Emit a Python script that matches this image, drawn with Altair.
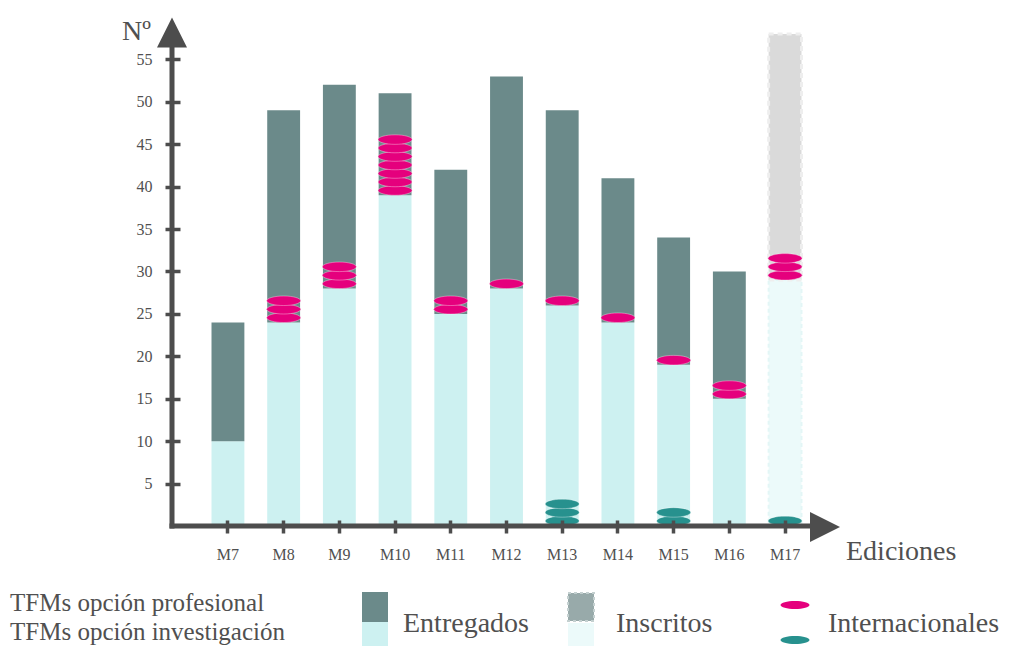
import altair as alt
import pandas as pd

# ---- data ----
editions = ["M7", "M8", "M9", "M10", "M11", "M12", "M13", "M14", "M15", "M16", "M17"]
investigacion = [10, 24, 28, 39, 25, 28, 26, 24, 19, 15, 29]
total = [24, 49, 52, 51, 42, 53, 49, 41, 34, 30, 58]
intl_profesional = [0, 3, 3, 7, 2, 1, 1, 1, 1, 2, 3]
intl_investigacion = [0, 0, 0, 0, 0, 0, 3, 0, 2, 0, 1]
estado = ["Entregados"] * 10 + ["Inscritos"]
y_ticks = [5, 10, 15, 20, 25, 30, 35, 40, 45, 50, 55]

FONT = "Liberation Serif"
AX = "#4d4d4d"
TXT = "#505050"
DARK = "#6b8a8a"
LIGHT = "#cdf1f1"
PINK = "#e5007d"
TEAL = "#27918e"
GREY = "#dadada"
LIGHT2 = "#ecfafa"

bars = pd.DataFrame({"ed": editions, "inv": investigacion, "total": total,
                     "estado": estado, "zero": [0] * len(editions)})
ent = bars[bars.estado == "Entregados"]
ins = bars[bars.estado == "Inscritos"]

pink_rows, teal_rows = [], []
for e, inv, p, t in zip(editions, investigacion, intl_profesional, intl_investigacion):
    for i in range(p):
        pink_rows.append({"ed": e, "c": inv + 0.55 + i})
    for i in range(t):
        teal_rows.append({"ed": e, "c": 0.6 + i})
pink = pd.DataFrame(pink_rows)
teal = pd.DataFrame(teal_rows)

xs = alt.Scale(domain=editions, paddingInner=0.41, paddingOuter=0.5655)
ys = alt.Scale(domain=[0.707, 60], nice=False, zero=False)
xaxis = alt.Axis(title=None, domain=False, grid=False, tickSize=13, tickWidth=3.5,
                 tickColor=AX, labelFont=FONT, labelFontSize=16, labelColor=TXT,
                 labelPadding=13, labelAngle=0, zindex=2)
yaxis = alt.Axis(title=None, values=y_ticks, domain=False, grid=False, tickSize=15,
                 tickWidth=3.5, tickColor=AX, labelFont=FONT, labelFontSize=16,
                 labelColor=TXT, labelPadding=13, zindex=2)
X = alt.X("ed:N", scale=xs, axis=xaxis, sort=editions)


def Y(f):
    return alt.Y(f, scale=ys, axis=yaxis)


light_ent = alt.Chart(ent).mark_bar(fill=LIGHT).encode(x=X, y=Y("zero:Q"), y2="inv:Q")
dark_ent = alt.Chart(ent).mark_bar(fill=DARK).encode(x=X, y=Y("inv:Q"), y2="total:Q")
light_ins = alt.Chart(ins).mark_bar(fill=LIGHT2, stroke="#e3f6f6", strokeWidth=2,
                                    strokeDash=[4, 3]).encode(x=X, y=Y("zero:Q"), y2="inv:Q")
grey_ins = alt.Chart(ins).mark_bar(fill=GREY, stroke="#eeeeee", strokeWidth=3,
                                   strokeDash=[5, 4]).encode(x=X, y=Y("inv:Q"), y2="total:Q")

ELL = "M-1,0A1,0.28,0,1,1,1,0A1,0.28,0,1,1,-1,0Z"
pink_pts = alt.Chart(pink).mark_point(shape=ELL, size=1156, filled=True, fill=PINK, opacity=1,
                                      stroke="white", strokeWidth=0.6, strokeOpacity=0.6
                                      ).encode(x=X, y=Y("c:Q"))
teal_pts = alt.Chart(teal).mark_point(shape=ELL, size=1156, filled=True, fill=TEAL, opacity=1,
                                      stroke="white", strokeWidth=0.6, strokeOpacity=0.6
                                      ).encode(x=X, y=Y("c:Q"))

one = alt.Data(values=[{"a": 1}])
deco = []
# axis lines and arrow heads
deco.append(alt.Chart(one).mark_rule(color=AX, strokeWidth=5, strokeCap="butt").encode(
    x=alt.value(-8), y=alt.value(30), y2=alt.value(511.5)))
deco.append(alt.Chart(one).mark_rule(color=AX, strokeWidth=5, strokeCap="butt").encode(
    x=alt.value(-10.5), x2=alt.value(632), y=alt.value(509)))
deco.append(alt.Chart(one).mark_point(shape="M0,-1L1,1L-1,1Z", size=900, filled=True,
                                      fill=AX, opacity=1).encode(x=alt.value(-8), y=alt.value(15.5)))
deco.append(alt.Chart(one).mark_point(shape="M1,0L-1,-1L-1,1Z", size=900, filled=True,
                                      fill=AX, opacity=1).encode(x=alt.value(645), y=alt.value(510)))


def txt(s, x, y, size=28):
    return alt.Chart(one).mark_text(text=s, font=FONT, fontSize=size, color=TXT,
                                    align="left", baseline="alphabetic").encode(
        x=alt.value(x), y=alt.value(y))


deco.append(txt("Nº", -58, 23))
deco.append(txt("Ediciones", 666, 543))
deco.append(txt("TFMs opción profesional", -170, 594, 25))
deco.append(txt("TFMs opción investigación", -170, 623, 25))
deco.append(txt("Entregados", 223, 615))
deco.append(txt("Inscritos", 436, 615))
deco.append(txt("Internacionales", 648, 615))


def rect(x1, x2, y1, y2, fill, **kw):
    return alt.Chart(one).mark_rect(fill=fill, **kw).encode(
        x=alt.value(x1), x2=alt.value(x2), y=alt.value(y1), y2=alt.value(y2))


deco.append(rect(182, 208, 575, 605, DARK))
deco.append(rect(182, 208, 605, 640, LIGHT))
deco.append(rect(388, 414, 576, 604, "#98aaaa", stroke="#c4d0d0", strokeWidth=2, strokeDash=[3, 3]))
deco.append(rect(388, 414, 606, 640, LIGHT2))
deco.append(alt.Chart(one).mark_point(shape=ELL, size=841, filled=True, fill=PINK, opacity=1).encode(
    x=alt.value(615), y=alt.value(588)))
deco.append(alt.Chart(one).mark_point(shape=ELL, size=841, filled=True, fill=TEAL, opacity=1).encode(
    x=alt.value(615), y=alt.value(623)))

chart = alt.layer(light_ent, dark_ent, light_ins, grey_ins, pink_pts, teal_pts, *deco).properties(
    width=653, height=503,
    autosize=alt.AutoSizeParams(type="none"),
    padding={"left": 172, "top": 9, "right": 168, "bottom": 126},
).configure(background="white", view=alt.ViewConfig(strokeWidth=0))

chart.save("out.html", embed_options={"renderer": "svg", "actions": False})
